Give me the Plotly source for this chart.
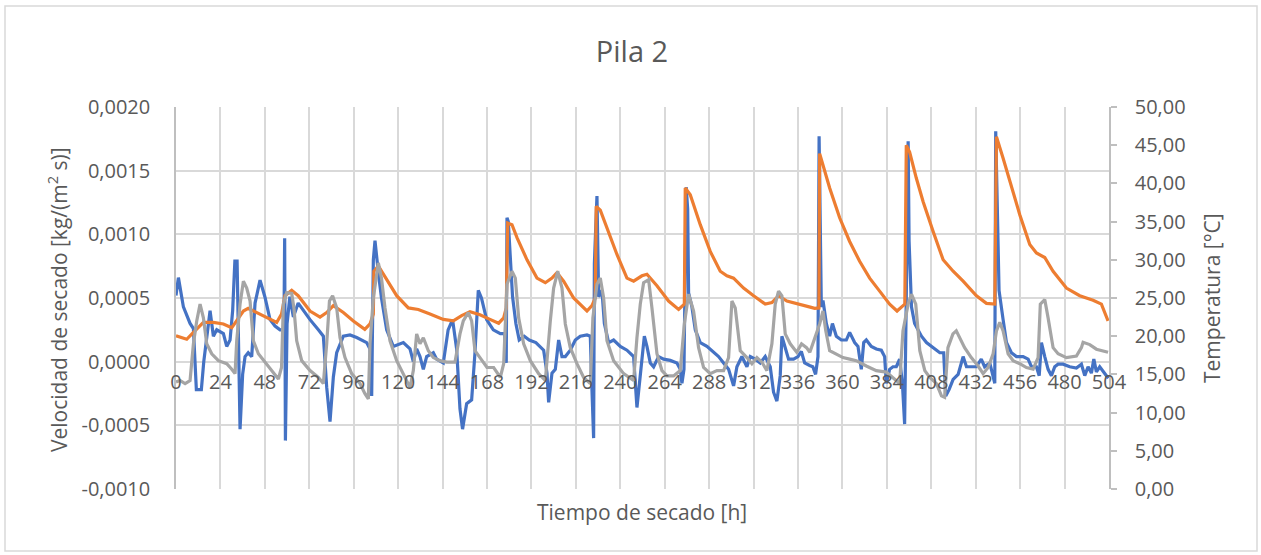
import plotly.graph_objects as go

# ---------------- data ----------------
blue_t = [0, 1.3, 4, 7.6, 9.4, 11, 13.7, 15, 18.4, 20.2, 22, 25.6, 27.4, 29.2, 30.6, 31.8, 33, 34.6, 36, 37.3,
          39, 40.9, 42.7, 45.4, 48, 50.8, 53.5, 56.2, 58.3, 58.7, 59.1, 60, 61.5, 63.4, 66, 68.8, 72.4, 76.9, 79.6,
          81.4, 83.2, 85, 86.8, 90.4, 94, 97.6, 103, 104.8, 105.7, 106.6, 107.5, 109.3, 111, 113.8, 117.4, 122.8,
          126.4, 128.2, 130, 131.8, 133.6, 135.4, 139, 140.8, 144.4, 147, 149.4, 151.6, 153.4, 154.8, 157, 159.7,
          161.5, 163.3, 165, 167.8, 171.4, 175.2, 177.5, 178.4, 178.8, 179.5, 180.4, 181.8, 183.6, 185.4, 188.1,
          190.8, 194.4, 198.6, 200.4, 201.3, 203.1, 204.9, 206.7, 208.5, 210.3, 213, 215.7, 218.4, 222, 223.8,
          224.7, 225.6, 226, 227.4, 228.3, 230.1, 231.4, 233.7, 236.4, 240, 243.6, 247.2, 249, 250.8, 253, 254.4,
          256.2, 258, 260.7, 263.4, 267, 270.6, 272.4, 273.3, 274.4, 275.6, 276.4, 276.9, 278.7, 280.5, 283.2,
          286.8, 290.4, 293.1, 295.8, 298.5, 301.2, 303, 305.7, 308.4, 310.2, 312.9, 315.6, 318.3, 321, 322.8,
          324.6, 326.4, 327.3, 329.1, 330.9, 333.6, 336, 337.8, 339.6, 342.3, 344, 345.5, 346.8, 347.4, 348.1,
          348.6, 349.5, 351.3, 353.1, 354.6, 356.7, 359.4, 362.1, 363.9, 366.6, 368.4, 370.2, 371.5, 372.9, 375.6,
          378.3, 381, 382.8, 383.7, 385.5, 387.3, 389.1, 390.9, 392.4, 393.6, 394.5, 395.5, 396, 397.3, 399, 400.9,
          402.7, 405.4, 409, 412.6, 414.7, 415.8, 417.6, 419.8, 422.5, 425.2, 427, 430, 432.3, 435, 436.8, 439.6,
          441.4, 442.3, 442.8, 443.6, 444.6, 446.8, 448.6, 451.3, 454, 457.6, 460.3, 462.1, 464.8, 466.3, 467.5,
          469.3, 471.1, 472.9, 474.7, 476.5, 479.2, 482.8, 486.4, 489.1, 490.9, 492.7, 494.5, 495.8, 497.2, 499,
          501.8, 503.6]
blue_v = [0.00052, 0.00066, 0.00043, 0.00030, 0.00026, -0.00022, -0.00022, 0.0, 0.00040, 0.00020, 0.00025,
          0.00022, 0.00012, 0.00017, 0.0004, 0.00079, 0.00079, -0.00053, -0.0001, 0.00004, 0.00007, 0.00004,
          0.00046, 0.00064, 0.00051, 0.00033, 0.00028, 0.00025, 0.00025, 0.00097, -0.00062, 0.0003, 0.00051,
          0.00035, 0.00046, 0.0004, 0.00033, 0.00025, 0.0002, -0.0002, -0.00047, -0.00012, 0.00007, 0.0002,
          0.00021, 0.00019, 0.00015, 0.0001, -0.00027, 0.0008, 0.00095, 0.0007, 0.0005, 0.00025, 0.00012,
          0.00015, 0.0001, 0.0, 0.0001, 0.00004, -0.00006, 0.00004, 0.00007, 0.00002, -0.00001, 0.00025, 0.00033,
          0.0001, -0.00037, -0.00053, -0.00033, -0.0003, 0.00007, 0.00056, 0.0005, 0.00033, 0.00025, 0.00022,
          0.00022, -0.00001, 0.00113, 0.0011, 0.00087, 0.00051, 0.0003, 0.00017, 0.0002, 0.00017, 0.00015,
          0.00009, -0.00009, -0.00032, -0.00009, -0.00006, 0.00017, 0.00004, 0.00004, 0.00009, 0.00017, 0.0002,
          0.00021, 0.0002, -0.00022, -0.0006, 0.00077, 0.0013, 0.00051, 0.00056, 0.0003, 0.00015, 0.00017,
          0.00012, 0.00009, 0.00004, -0.00036, -0.00011, 0.0002, 0.00012, -0.00001, -0.00004, 0.00004, 0.00002,
          0.00001, -0.00001, -0.00006, -0.00017, -0.00006, 0.00137, 0.0012, 0.00054, 0.00043, 0.00025, 0.00015,
          0.00012, 0.00007, 0.00004, -0.00001, -0.00006, -0.00019, -0.00004, 0.00004, -0.00004, 0.00004, 0.00002,
          -0.00001, 0.00004, -0.00004, -0.00024, -0.00031, -0.00011, 0.0002, 0.0001, 0.00002, 0.00002, 0.00004,
          0.00008, -0.00001, -0.00003, -0.00004, -0.0001, 0.00004, 0.00177, 0.00108, 0.00043, 0.00048, 0.0003,
          0.0002, 0.0003, 0.0002, 0.00017, 0.00017, 0.00023, 0.00015, 0.00012, -0.00006, 0.00015, 0.00017,
          0.00012, 0.0001, 0.00009, 0.00004, -0.00017, -0.00006, -0.00004, -0.00004, 0.00002, -0.00017, -0.00049,
          0.00051, 0.00173, 0.00095, 0.00043, 0.0003, 0.00025, 0.0002, 0.00015, 0.00011, 0.00007, 0.00007,
          -0.00027, -0.00022, -0.00014, -0.0001, 0.00004, -0.00004, -0.00004, -0.00004, 0.00002, -0.00004,
          -0.00001, -0.00011, -0.00017, 0.00181, 0.00114, 0.00056, 0.00033, 0.00015, 0.00007, 0.00004, 0.00004,
          0.00002, -0.00004, -0.00004, -0.00011, 0.00015, 0.00004, -0.00006, -0.00011, -0.00004, -0.00002,
          -0.00002, -0.00004, -0.00005, -0.00002, -0.00011, -0.00004, -0.00009, 0.00002, -0.00008, -0.00004,
          -0.00009, -0.00013]

orange_t = [0, 5.8, 9.4, 14.8, 20.2, 25.6, 30.1, 32.8, 36.4, 39, 43.6, 49, 54.4, 57, 58.9, 62.5, 66, 72.4, 77.8,
            81.4, 85, 90.4, 95.8, 102, 104.8, 106.6, 106.9, 109.3, 113.8, 119.2, 125.5, 130.9, 137.2, 144.4, 149.8,
            154.3, 158.8, 164.2, 169.6, 174.3, 177, 178.4, 179.2, 181.5, 184.2, 189.6, 195, 199.5, 203.1, 205.8,
            209.4, 214.8, 222, 224.7, 226.5, 227, 229.2, 232.8, 238.2, 243.6, 247.2, 251.7, 254.4, 259.8, 266.1,
            271.5, 274.6, 275.1, 277.8, 283.2, 288.6, 294, 297.6, 301.2, 306.6, 312, 318.3, 321.9, 325.5, 330,
            337.2, 342.6, 345, 347.3, 347.7, 349.5, 353.1, 358.5, 363.9, 369.3, 374.7, 380.1, 385.5, 389.5, 393.7,
            394.5, 396.3, 399.9, 403.6, 409, 414.4, 419.8, 425.2, 432.4, 437.8, 442.3, 443.2, 446.8, 450.4, 455.8,
            461.2, 464.8, 469.3, 473.8, 481, 488.2, 495.4, 499.9, 503.5]
orange_T = [20.05, 19.6, 20.5, 21.8, 21.8, 21.6, 21.1, 22, 23.3, 23.65, 23.1, 22.4, 21.8, 22.9, 25.3, 26, 25.3,
            23.3, 22.5, 23.1, 24, 23.1, 22, 20.9, 21.6, 22.9, 28.5, 29.2, 27.4, 25.3, 23.7, 23.5, 22.9, 22.2, 22,
            22.7, 23.2, 22.8, 22.2, 21.7, 22.4, 23.7, 34.8, 34.6, 32.9, 30, 27.6, 27, 27.6, 28.3, 27.2, 25, 23.3,
            24, 25, 37, 36.5, 34.2, 30.7, 27.6, 27.2, 27.9, 28.1, 26.6, 24.6, 23.5, 24.2, 39.4, 38.5, 34.6, 31.1,
            28.5, 27.9, 27.6, 26.3, 25.3, 24.2, 24.4, 25.3, 24.6, 24.2, 23.8, 23.65, 23.7, 43.9, 42.4, 39.4, 35.5,
            32.4, 29.8, 27.6, 25.9, 24.2, 23.3, 24.2, 45, 44.1, 40.7, 37.6, 33.7, 30, 28.5, 27.2, 25.3, 24.3, 24.2,
            46.1, 43.3, 40.2, 35.9, 32, 30.9, 30.3, 28.5, 26.3, 25.3, 24.7, 24.2, 22]

gray_t = [0, 2.2, 4.9, 7.6, 9.4, 11.2, 13, 14.8, 16.6, 19.3, 22.9, 27.4, 30, 31.9, 32.8, 34.6, 36.4, 38.2, 40,
          41.8, 44.5, 48, 52.6, 55.3, 57, 58, 59.8, 62.5, 63.7, 65.2, 67.9, 72.4, 76.9, 79.6, 81.4, 82.9, 84.6,
          86.8, 88.6, 91.3, 94.9, 99.4, 102, 103.9, 104.8, 106.6, 109.3, 111, 112.9, 115.6, 119.2, 122.8, 126.4,
          128.2, 130, 131.8, 133.6, 136.3, 139, 142.6, 146.2, 150.7, 153.4, 155.2, 157.9, 159.7, 161.5, 164.2, 168,
          171.6, 175.2, 177, 178.8, 181.5, 183.3, 185.1, 187.8, 191.4, 195.9, 199.5, 200.4, 202.2, 204, 206.2,
          208.5, 210.3, 213, 216.6, 220.2, 223.8, 225.2, 227.4, 229.2, 231, 232.8, 236.4, 241.8, 247.2, 249, 250.8,
          252.6, 255.3, 257.1, 259.8, 262.5, 265.2, 268.8, 272.4, 274.6, 276.9, 279.6, 282.3, 285, 288.6, 292.2,
          295.8, 298.5, 300.3, 302.1, 304.8, 308.4, 311.1, 313.8, 316.5, 319.2, 321.9, 323.7, 325.5, 327.3, 329.1,
          331.8, 335.3, 337.9, 340.6, 342.4, 345, 347.7, 349.5, 351, 353.1, 356.7, 360.3, 363.9, 367.5, 372.9,
          378.3, 383.7, 387.3, 390.9, 392.7, 395.5, 397.3, 399.6, 401.8, 404.5, 407.2, 410.8, 413.5, 415.2, 417,
          419.7, 421.5, 423.4, 426, 429.6, 433.3, 436, 438.7, 441.4, 443.2, 445, 446.8, 449.5, 452.2, 455.8, 459.4,
          463, 465.7, 466.9, 469.3, 471.1, 473.8, 476.5, 481, 486.4, 489.1, 490, 493.6, 497.2, 500.8, 503.5]
gray_T = [14, 14.2, 13.8, 14.2, 19, 22, 24.2, 22.4, 19, 17.7, 16.8, 16.4, 15.7, 15.1, 19.4, 24.2, 27.2, 26.3,
          24.6, 19.4, 17.7, 16.6, 15.1, 14.4, 15.9, 24.2, 25.7, 25.6, 23.7, 19.4, 16.8, 15.5, 14.6, 13.8, 19, 24.6,
          25.3, 23.7, 19.8, 17.2, 15.1, 13.8, 12.5, 11.8, 19, 25, 29.6, 27.6, 23.7, 19.4, 16.8, 15.1, 13.3, 15.5,
          20.3, 19, 19.8, 18.1, 17.2, 16.8, 16.6, 16.6, 20.3, 22, 23.1, 22, 18.1, 17.2, 15.9, 15.9, 14.6, 16.4,
          26.8, 28.5, 27.6, 22.4, 19, 16.8, 15.1, 14.2, 17.2, 22, 26.3, 28.5, 26.3, 21.6, 18.5, 16.4, 14.6, 13.8,
          22.4, 26.8, 27.6, 25, 19.4, 16.8, 15.1, 14.2, 19.8, 24.2, 27, 27.4, 23.7, 17.7, 15.5, 14.8, 14.8, 15.5,
          21.6, 25.5, 23.3, 18.5, 15.9, 15.1, 15.5, 15.5, 17.2, 24.6, 23.7, 18.1, 17.2, 16.4, 17.2, 16.6, 15.5, 19,
          24.2, 25.9, 25.3, 20.3, 19, 17.9, 19, 18.5, 17.9, 19.8, 21.6, 23.3, 20.7, 18.1, 17.7, 17.2, 17, 16.8,
          16.1, 15.5, 15.3, 14.6, 13.8, 20.7, 24.2, 25.5, 24.2, 18.1, 15.5, 14.6, 13.8, 12.2, 12, 18.5, 20.3, 20.7,
          19.8, 18.5, 17.2, 16.1, 15.1, 15.9, 17.7, 20.7, 21.8, 20.7, 17.7, 16.8, 16.4, 15.9, 15.7, 17.2, 24.2,
          24.8, 22.4, 18.5, 17.7, 17.2, 17.4, 18.5, 19.2, 18.9, 18.3, 18.1, 17.9]

x_ticks = list(range(0, 505, 24))
left_ticks = [-0.0010, -0.0005, 0.0, 0.0005, 0.0010, 0.0015, 0.0020]
left_labels = ["-0,0010", "-0,0005", "0,0000", "0,0005", "0,0010", "0,0015", "0,0020"]
right_ticks = [0, 5, 10, 15, 20, 25, 30, 35, 40, 45, 50]
right_labels = ["0,00", "5,00", "10,00", "15,00", "20,00", "25,00", "30,00", "35,00", "40,00", "45,00", "50,00"]

title_text = "Pila 2"
x_title = "Tiempo de secado [h]"
y_title = "Velocidad de secado [kg/(m<sup>2</sup> s)]"
y2_title = "Temperatura [°C]"

# ---------------- figure ----------------
FONT = "Open Sans"
TXT = "#595959"
GRID = "#D9D9D9"

W, H = 1261, 555
L, R, T, B = 176, 152, 107, 66
pw, ph = W - L - R, H - T - B

def px_x(x):
    return (x - L) / pw

def px_y(y):
    return (H - B - y) / ph

fig = go.Figure()
fig.add_trace(go.Scatter(x=blue_t, y=blue_v, mode="lines", name="Velocidad",
                         line=dict(color="#4472C4", width=3.2), yaxis="y"))
fig.add_trace(go.Scatter(x=orange_t, y=orange_T, mode="lines", name="T1",
                         line=dict(color="#ED7D31", width=3.2), yaxis="y2"))
fig.add_trace(go.Scatter(x=gray_t, y=gray_T, mode="lines", name="T2",
                         line=dict(color="#A5A5A5", width=3.2), yaxis="y2"))

fig.update_layout(
    width=W, height=H,
    margin=dict(l=L, r=R, t=T, b=B, pad=0),
    paper_bgcolor="white", plot_bgcolor="white",
    showlegend=False,
    font=dict(family=FONT, color=TXT, size=20),
    title=dict(text=title_text, x=632 / W, xanchor="center", y=1 - 52 / H, yanchor="middle",
               font=dict(size=29, color=TXT, family=FONT)),
    xaxis=dict(range=[0, 504], tickvals=x_ticks, ticktext=[str(v) for v in x_ticks],
               showgrid=True, gridcolor=GRID, gridwidth=1.5, zeroline=False, showline=False,
               ticks="", anchor="free", position=1 / 3, ticklabelstandoff=6,
               tickfont=dict(size=20, color=TXT)),
    yaxis=dict(range=[-0.0010, 0.0020], tickvals=left_ticks, ticktext=left_labels,
               showgrid=True, gridcolor=GRID, gridwidth=1.5, zeroline=False,
               showline=True, linecolor="#BFBFBF", linewidth=1.5, ticks="",
               ticklabelstandoff=20, tickfont=dict(size=20, color=TXT)),
    yaxis2=dict(range=[0, 50], tickvals=right_ticks, ticktext=right_labels, overlaying="y", side="right",
                showgrid=False, zeroline=False, showline=True, linecolor="#BFBFBF", linewidth=1.5,
                ticks="outside", ticklen=6, tickcolor="#BFBFBF", tickwidth=1.5,
                ticklabelstandoff=14, tickfont=dict(size=20, color=TXT)),
)

fig.add_annotation(text=x_title, xref="paper", yref="paper", x=px_x(642), y=px_y(512),
                   xanchor="center", yanchor="middle", showarrow=False, font=dict(size=21, color=TXT))
fig.add_annotation(text=y_title, xref="paper", yref="paper", x=px_x(57), y=px_y(299),
                   xanchor="center", yanchor="middle", textangle=-90, showarrow=False,
                   font=dict(size=21, color=TXT))
fig.add_annotation(text=y2_title, xref="paper", yref="paper", x=px_x(1212), y=px_y(298),
                   xanchor="center", yanchor="middle", textangle=-90, showarrow=False,
                   font=dict(size=21, color=TXT))

# chart-area border
fig.add_shape(type="rect", xref="paper", yref="paper", x0=px_x(5), x1=px_x(1257), y0=px_y(551), y1=px_y(6),
              line=dict(color="#D9D9D9", width=1.5), fillcolor="rgba(0,0,0,0)", layer="below")

fig.write_html("out.html", config={"displayModeBar": False},
               post_script="document.body.style.margin='0';document.body.style.overflow='hidden';")
